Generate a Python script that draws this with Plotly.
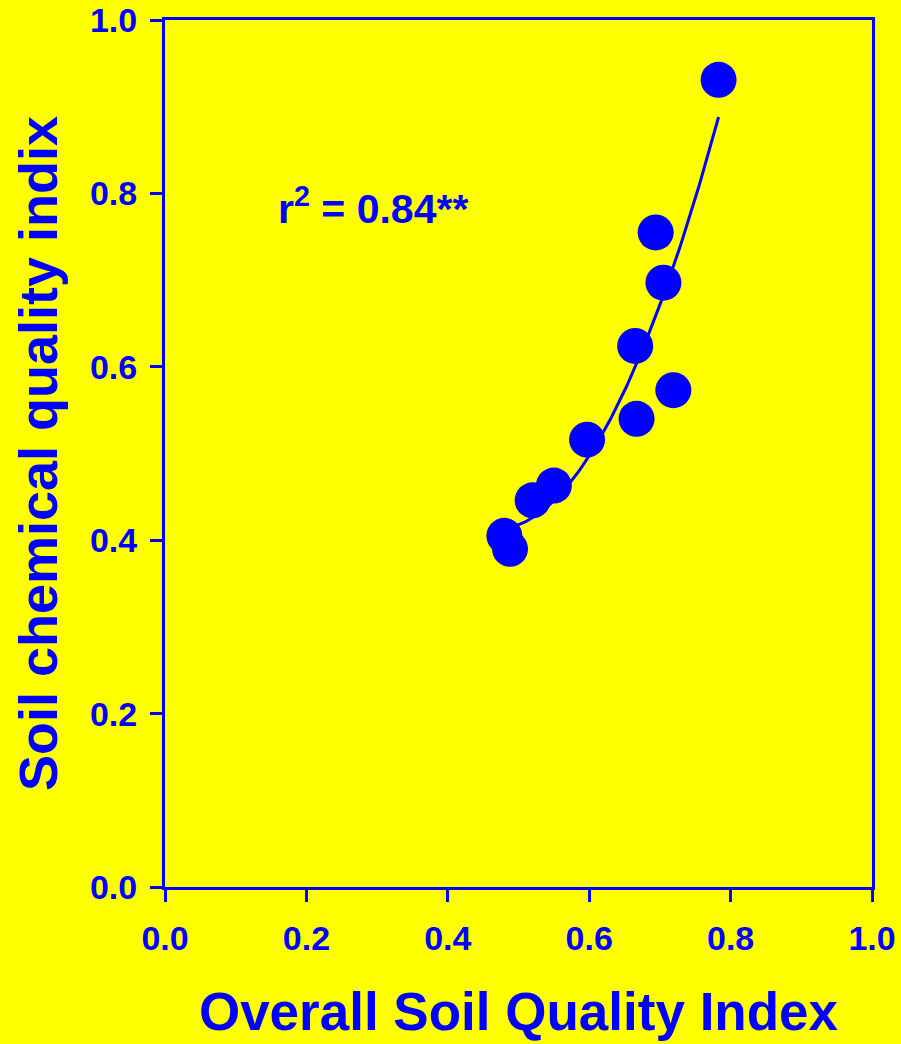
import numpy as np
import plotly.graph_objects as go

# Data
overall_sqi = [0.783, 0.694, 0.705, 0.665, 0.719, 0.667, 0.597, 0.550, 0.520, 0.480, 0.488]
chemical_sqi = [0.931, 0.755, 0.697, 0.624, 0.573, 0.540, 0.516, 0.463, 0.446, 0.405, 0.390]
tick_vals = [0.0, 0.2, 0.4, 0.6, 0.8, 1.0]
tick_text = ["0.0", "0.2", "0.4", "0.6", "0.8", "1.0"]
r2_label = "r<sup>2</sup> = 0.84**"

BLUE = "#0000FF"
YELLOW = "#FFFF00"
FONT = "Liberation Sans, Arial, sans-serif"

# quadratic regression fitted to the points
coef = np.polyfit(overall_sqi, chemical_sqi, 2)
xf = np.linspace(min(overall_sqi) + 0.015, max(overall_sqi), 100)
yf = np.polyval(coef, xf)

fig = go.Figure()
fig.add_trace(go.Scatter(x=xf, y=yf, mode="lines",
                         line=dict(color=BLUE, width=3), showlegend=False, hoverinfo="skip"))
fig.add_trace(go.Scatter(x=overall_sqi, y=chemical_sqi, mode="markers",
                         marker=dict(color=BLUE, size=36, line=dict(width=0)),
                         showlegend=False))

axis_common = dict(
    range=[0, 1], tickvals=tick_vals, ticktext=tick_text,
    showgrid=False, zeroline=False, automargin=False,
    showline=True, linecolor=BLUE, linewidth=3, mirror=True,
    ticks="outside", ticklen=12, tickwidth=2.5, tickcolor=BLUE,
    tickfont=dict(family=FONT, size=34, color=BLUE, weight="bold"),
)

fig.update_xaxes(**axis_common, ticklabelstandoff=7,
                 title=dict(text="Overall Soil Quality Index",
                            font=dict(family=FONT, size=53, color=BLUE, weight="bold"),
                            standoff=38))
fig.update_yaxes(**axis_common, ticklabelstandoff=6,
                 title=dict(text="Soil chemical quality indix",
                            font=dict(family=FONT, size=54, color=BLUE, weight="bold"),
                            standoff=16))

fig.add_annotation(x=0.157, y=0.785, xref="x", yref="y", text=r2_label,
                   showarrow=False, xanchor="left", yanchor="middle",
                   font=dict(family=FONT, size=41, color=BLUE, weight="bold"))

fig.update_layout(
    width=901, height=1044,
    margin=dict(l=165, r=29, t=20, b=157),
    paper_bgcolor=YELLOW, plot_bgcolor=YELLOW,
)

fig.write_html("out.html")
